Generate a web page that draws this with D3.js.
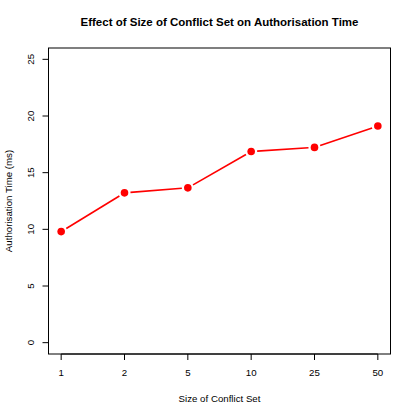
<!DOCTYPE html>
<html>
<meta charset="utf-8">
<title>Conflict Set</title>
<style>
body { margin: 0; background: #fff; }
text { font-family: "Liberation Sans", Arial, sans-serif; fill: #000; }
</style>
<svg></svg>
<script src="https://d3js.org/d3.v7.min.js"></script>
<script>

var categories = ["1", "2", "5", "10", "25", "50"];
var times = [9.8, 13.22, 13.66, 16.87, 17.23, 19.12];
var yTicks = [0, 5, 10, 15, 20, 25];

var W = 415, H = 415;
var svg = d3.select("svg").attr("width", W).attr("height", H);

var pLeft = 48.5, pRight = 390.5, pTop = 48, pBottom = 354;

// R style: 4% padding on both axes
var x = d3.scaleLinear().domain([0.8, categories.length + 0.2]).range([pLeft, pRight]);
var y = d3.scaleLinear().domain([-1, 26]).range([pBottom, pTop]);

svg.append("rect")
    .attr("x", pLeft).attr("y", pTop)
    .attr("width", pRight - pLeft).attr("height", pBottom - pTop)
    .attr("fill", "none").attr("stroke", "#000").attr("stroke-width", 1);

// x axis
var gx = svg.append("g").attr("transform", "translate(0," + pBottom + ")");
gx.append("line").attr("x1", x(1)).attr("x2", x(categories.length))
    .attr("stroke", "#000");
categories.forEach(function(c, i) {
  gx.append("line").attr("x1", x(i + 1)).attr("x2", x(i + 1))
      .attr("y1", 0).attr("y2", 6).attr("stroke", "#000");
  gx.append("text").attr("x", x(i + 1)).attr("y", 22)
      .attr("text-anchor", "middle").attr("font-size", 9.7).text(c);
});

// y axis
var gy = svg.append("g").attr("transform", "translate(" + pLeft + ",0)");
gy.append("line").attr("y1", y(0)).attr("y2", y(25)).attr("stroke", "#000");
yTicks.forEach(function(t) {
  gy.append("line").attr("y1", y(t)).attr("y2", y(t))
      .attr("x1", 0).attr("x2", -6).attr("stroke", "#000");
  gy.append("text")
      .attr("transform", "translate(-15," + y(t) + ") rotate(-90)")
      .attr("text-anchor", "middle").attr("font-size", 9.7).text(t);
});

// labels
svg.append("text").attr("x", (pLeft + pRight) / 2).attr("y", 26)
    .attr("text-anchor", "middle").attr("font-size", 11.5)
    .attr("font-weight", "bold")
    .text("Effect of Size of Conflict Set on Authorisation Time");
svg.append("text").attr("x", (pLeft + pRight) / 2).attr("y", 402)
    .attr("text-anchor", "middle").attr("font-size", 9.7)
    .text("Size of Conflict Set");
svg.append("text")
    .attr("transform", "translate(12," + (pTop + pBottom) / 2 + ") rotate(-90)")
    .attr("text-anchor", "middle").attr("font-size", 9.7)
    .text("Authorisation Time (ms)");

// line with gaps (type = "b")
var pts = times.map(function(v, i) { return [x(i + 1), y(v)]; });
var gap = 6;
for (var i = 0; i < pts.length - 1; i++) {
  var a = pts[i], b = pts[i + 1];
  var dx = b[0] - a[0], dy = b[1] - a[1], len = Math.sqrt(dx * dx + dy * dy);
  var ux = dx / len, uy = dy / len;
  svg.append("line")
      .attr("x1", a[0] + ux * gap).attr("y1", a[1] + uy * gap)
      .attr("x2", b[0] - ux * gap).attr("y2", b[1] - uy * gap)
      .attr("stroke", "#ff0000").attr("stroke-width", 1.6);
}

svg.selectAll("circle.pt")
    .data(times)
    .enter().append("circle")
      .attr("class", "pt")
      .attr("cx", function(d, i) { return x(i + 1); })
      .attr("cy", function(d) { return y(d); })
      .attr("r", 3.8)
      .attr("fill", "#ff0000");

</script>
</html>
